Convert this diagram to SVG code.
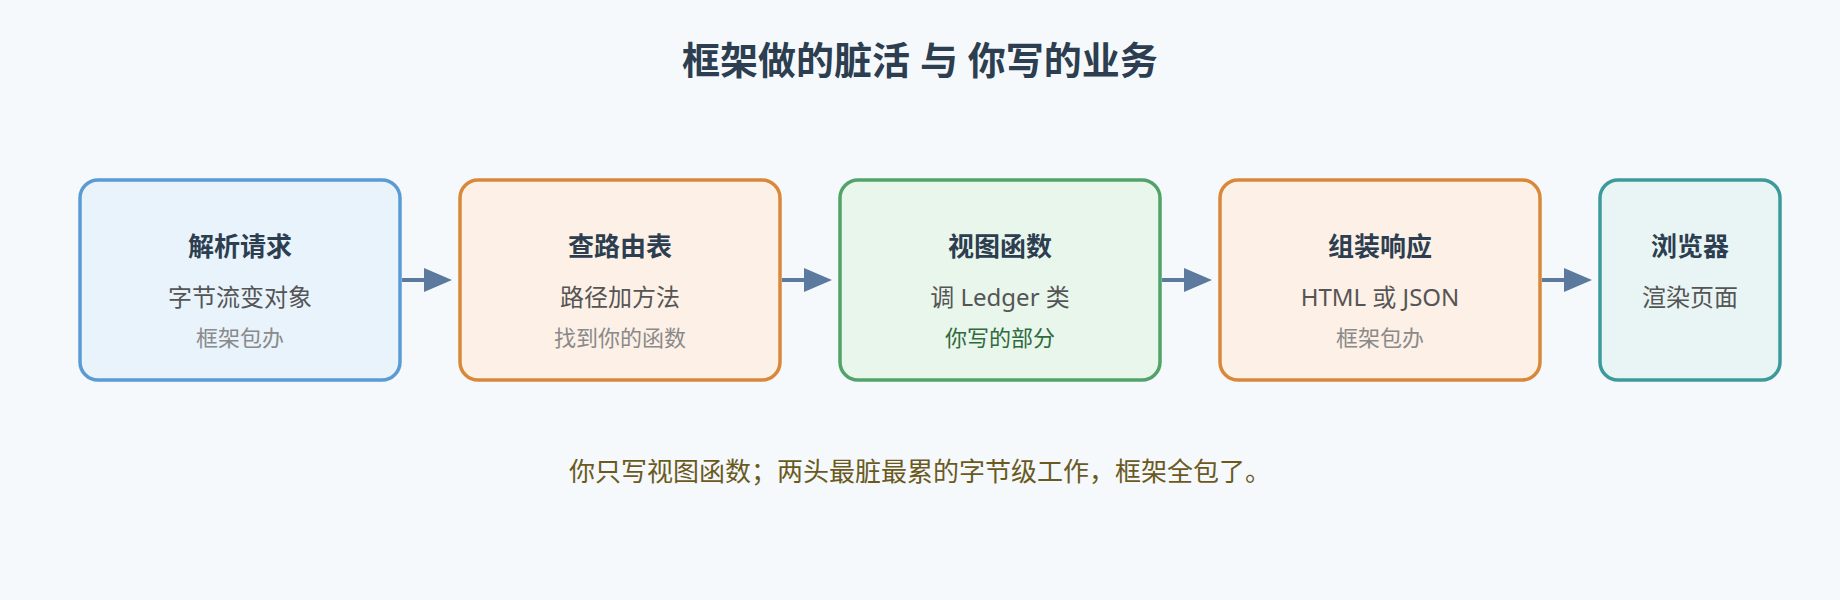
<svg xmlns="http://www.w3.org/2000/svg" width="1840" height="600" viewBox="0 0 1840 600">
  <style>
    text { font-family: "Noto Sans", "Noto Sans CJK SC", sans-serif; text-anchor: middle; }
    .title { font-size: 38px; font-weight: 700; fill: #2c3e50; }
    .h { font-size: 26px; font-weight: 700; fill: #2c3e50; }
    .s { font-size: 24px; fill: #555555; }
    .n { font-size: 22px; fill: #8a8a8a; }
    .mine { font-size: 22px; fill: #2f6b3d; }
    .foot { font-size: 26px; fill: #6b5a1e; }
    .box { stroke-width: 3.5; }
    .conn line { stroke: #5b7a9d; stroke-width: 4; }
    .conn polygon { fill: #5b7a9d; }
  </style>
  <rect x="0" y="0" width="1840" height="600" fill="#f5f9fc"/>
  <text class="title" x="920" y="74">框架做的脏活 与 你写的业务</text>

  <g id="node-parse">
    <rect class="box" x="80" y="180" width="320" height="200" rx="18" fill="#e8f3fc" stroke="#5b9bd5"/>
    <text class="h" x="240" y="256">解析请求</text>
    <text class="s" x="240" y="306">字节流变对象</text>
    <text class="n" x="240" y="346">框架包办</text>
  </g>
  <g id="node-route">
    <rect class="box" x="460" y="180" width="320" height="200" rx="18" fill="#fdf0e6" stroke="#d9883a"/>
    <text class="h" x="620" y="256">查路由表</text>
    <text class="s" x="620" y="306">路径加方法</text>
    <text class="n" x="620" y="346">找到你的函数</text>
  </g>
  <g id="node-view">
    <rect class="box" x="840" y="180" width="320" height="200" rx="18" fill="#e9f6ec" stroke="#52a36a"/>
    <text class="h" x="1000" y="256">视图函数</text>
    <text class="s" x="1000" y="306">调 Ledger 类</text>
    <text class="mine" x="1000" y="346">你写的部分</text>
  </g>
  <g id="node-response">
    <rect class="box" x="1220" y="180" width="320" height="200" rx="18" fill="#fdf0e6" stroke="#d9883a"/>
    <text class="h" x="1380" y="256">组装响应</text>
    <text class="s" x="1380" y="306">HTML 或 JSON</text>
    <text class="n" x="1380" y="346">框架包办</text>
  </g>
  <g id="node-browser">
    <rect class="box" x="1600" y="180" width="180" height="200" rx="18" fill="#e8f5f4" stroke="#3d9a9b"/>
    <text class="h" x="1690" y="256">浏览器</text>
    <text class="s" x="1690" y="306">渲染页面</text>
  </g>

  <g id="connectors" class="conn">
    <line x1="402" y1="280" x2="428" y2="280"/>
    <polygon points="424,268 452,280 424,292"/>
    <line x1="782" y1="280" x2="808" y2="280"/>
    <polygon points="804,268 832,280 804,292"/>
    <line x1="1162" y1="280" x2="1188" y2="280"/>
    <polygon points="1184,268 1212,280 1184,292"/>
    <line x1="1542" y1="280" x2="1568" y2="280"/>
    <polygon points="1564,268 1592,280 1564,292"/>
  </g>

  <text class="foot" x="920" y="481">你只写视图函数；两头最脏最累的字节级工作，框架全包了。</text>
</svg>
